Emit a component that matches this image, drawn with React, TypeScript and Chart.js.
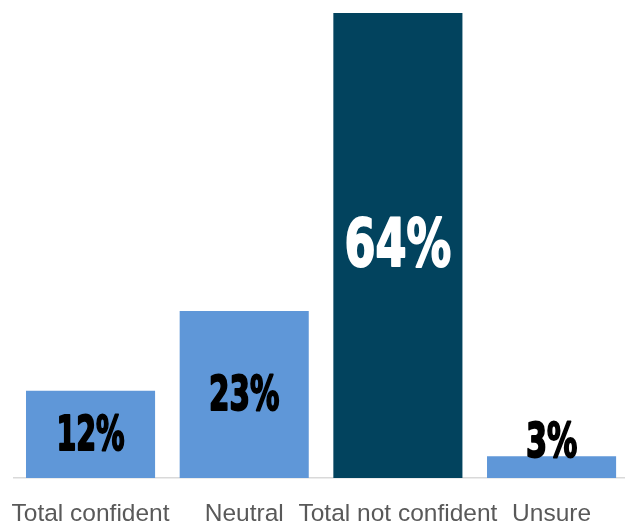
import React, { useEffect, useRef } from "react";
import { Chart, registerables } from "chart.js";

Chart.register(...registerables);

const categories = ["Total confident", "Neutral", "Total not confident", "Unsure"];
const values = [12, 23, 64, 3];
const barColors = ["#5F97D8", "#5F97D8", "#02435E", "#5F97D8"];
const labelColors = ["#000000", "#000000", "#FFFFFF", "#000000"];
const labelSizes = [48, 48, 66, 48];
const labelStretch = [0.66, 0.68, 0.75, 0.7];

const labelPlugin = {
  id: "barLabels",
  afterDatasetsDraw(chart: any) {
    const ctx = chart.ctx;
    const meta = chart.getDatasetMeta(0);
    const ds = chart.data.datasets[0];
    meta.data.forEach((bar: any, i: number) => {
      const v = ds.data[i];
      const text = v + "%";
      const size = labelSizes[i];
      const center = (bar.y + bar.base) / 2;
      const cy = Math.min(center, bar.base - 36) + 3;
      ctx.save();
      ctx.translate(bar.x, cy);
      ctx.scale(labelStretch[i], 1);
      ctx.font = `bold ${size}px "DejaVu Sans Condensed", "DejaVu Sans", sans-serif`;
      ctx.textAlign = "center";
      ctx.textBaseline = "middle";
      ctx.fillStyle = labelColors[i];
      ctx.strokeStyle = labelColors[i];
      ctx.lineWidth = 2;
      ctx.lineJoin = "round";
      ctx.strokeText(text, 0, 0);
      ctx.fillText(text, 0, 0);
      ctx.restore();
    });
  },
};

export default function App() {
  const ref = useRef<HTMLCanvasElement>(null);
  useEffect(() => {
    if (!ref.current) return;
    const chart = new Chart(ref.current, {
      type: "bar",
      data: {
        labels: categories,
        datasets: [
          {
            data: values,
            backgroundColor: barColors,
            borderWidth: 0,
            barPercentage: 0.84,
            categoryPercentage: 1,
          },
        ],
      },
      options: {
        animation: false,
        responsive: false,
        maintainAspectRatio: false,
        layout: { padding: { left: 13.7, right: 11.6, top: 13, bottom: 0 } },
        plugins: { legend: { display: false }, tooltip: { enabled: false } },
        scales: {
          x: {
            grid: { display: false, drawTicks: false },
            border: { display: true, color: "#D9D9D9", width: 1.5 },
            ticks: {
              color: "#595959",
              padding: 23.5,
              maxRotation: 0,
              autoSkip: false,
              font: { family: "Arial, 'Liberation Sans', sans-serif", size: 24.5, lineHeight: 1 },
            },
            afterFit: (scale: any) => {
              scale.paddingLeft = 0;
              scale.paddingRight = 0;
              scale.height = 46;
            },
          },
          y: { display: false, min: 0, max: 64 },
        },
      },
      plugins: [labelPlugin],
    });
    return () => chart.destroy();
  }, []);
  return (
    <div style={{ position: "fixed", left: 0, top: 0, width: 625, height: 524, overflow: "hidden", background: "#fff" }}>
      <canvas ref={ref} width={640} height={524} style={{ display: "block" }} />
    </div>
  );
}
